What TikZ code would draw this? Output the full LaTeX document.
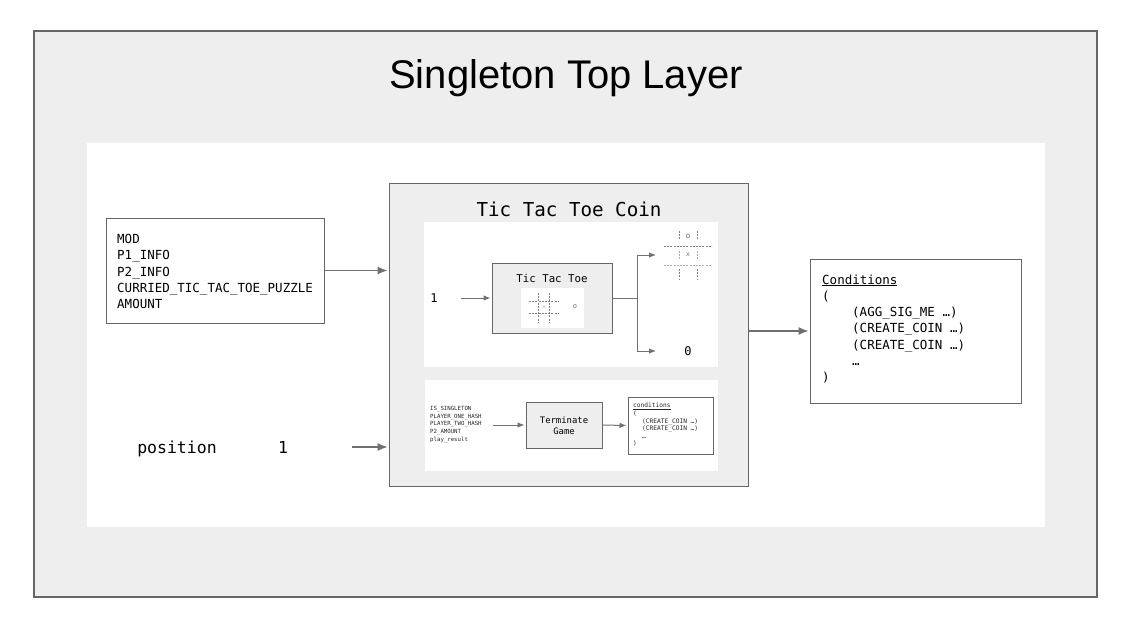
\documentclass[tikz,border=0pt]{standalone}
\usepackage{fontspec}
\setmainfont{Liberation Sans}
\newfontfamily\mono{DejaVu Sans Mono}
\usetikzlibrary{arrows.meta}
\definecolor{panelgray}{HTML}{EEEEEE}
\definecolor{edge}{HTML}{666666}
\definecolor{arr}{HTML}{707070}
\definecolor{gridc}{HTML}{808080}
\definecolor{gridl}{HTML}{B0B0B0}
\begin{document}
\begin{tikzpicture}[x=1pt,y=-1pt,
  box/.style={draw=edge,line width=1pt,inner sep=0pt},
  panel/.style={fill=white,inner sep=0pt},
  conn/.style={draw=arr,line width=1.2pt,shorten >=1pt,-{Latex[length=10pt,width=8pt]}},
  sconn/.style={draw=arr,line width=1pt,shorten >=1pt,-{Latex[length=7pt,width=5.5pt]}},
  plain/.style={draw=arr,line width=1pt},
  txt/.style={inner sep=0pt,align=left,anchor=west,text=black},
  lbl/.style={inner sep=0pt,text=black},
  gdash/.style={draw=gridc,line width=0.7pt,dash pattern=on 2pt off 1.2pt},
  gdashl/.style={draw=gridl,line width=0.7pt,dash pattern=on 2pt off 1.2pt},
 ]
\useasboundingbox (0,0) rectangle (1126,630);
\fill[white] (0,0) rectangle (1126,630);
% outer frame
\node[box,fill=panelgray,line width=1.2pt,minimum width=1063pt,minimum height=566pt] (outer) at (565.5,314) {};
\node[lbl,font=\fontsize{40}{44}\selectfont] (title) at (566,78) {Singleton Top Layer};
\node[panel,minimum width=958pt,minimum height=384pt] (white) at (566,335) {};
% left input box
\node[box,fill=white,minimum width=218pt,minimum height=105pt] (lbox) at (215,270.5) {};
\node[txt,font=\mono\fontsize{12.5}{16.3}\selectfont] (ltext) at (117,271.5)
  {MOD\\P1\_INFO\\P2\_INFO\\CURRIED\_TIC\_TAC\_TOE\_PUZZLE\\AMOUNT};
% coin box
\node[box,fill=panelgray,minimum width=359pt,minimum height=303pt] (coin) at (568.5,334.5) {};
\node[lbl,font=\mono\fontsize{19.2}{22}\selectfont] (cointitle) at (569,209) {Tic Tac Toe Coin};
\node[panel,minimum width=294pt,minimum height=145pt] (upper) at (571,294.5) {};
\node[panel,minimum width=293pt,minimum height=91pt] (lower) at (571.5,425.5) {};
% upper panel content
\node[lbl,font=\mono\fontsize{12}{14}\selectfont] (one) at (434,298) {1};
\coordinate (onestart) at (461,298);
\node[box,fill=panelgray,minimum width=120pt,minimum height=70pt] (ttt) at (552,298) {};
\node[lbl,font=\mono\fontsize{10.75}{12}\selectfont] (tttlabel) at (552,278) {Tic Tac Toe};
\node[panel,minimum width=63pt,minimum height=40pt] (tttw) at (552.5,308) {};
\draw[gdash] (538,293) -- (538,323);
\draw[gdash] (549,293) -- (549,323);
\draw[gdash] (529,301) -- (558,301);
\draw[gdash] (529,313) -- (558,313);
\node[lbl,text=gridl,font=\mono\fontsize{5}{6}\selectfont] (tx) at (544,307) {x};
\node[lbl,text=arr,font=\mono\fontsize{7}{8}\selectfont] (to) at (575,307) {o};
\draw[sconn] (onestart) -- (ttt.west);
\coordinate (fork) at (637,298);
\coordinate (upend) at (657,255);
\coordinate (downend) at (657,351);
\draw[plain] (ttt.east) -- (fork);
\draw[sconn] (fork) -- (fork |- upend) -- (upend);
\draw[sconn] (fork) -- (fork |- downend) -- (downend);
% result board
\draw[gdash] (679,231) -- (679,240);
\draw[gdash] (697,231) -- (697,240);
\draw[gdashl] (679,251) -- (679,260);
\draw[gdashl] (697,251) -- (697,260);
\draw[gdash] (679,269) -- (679,280);
\draw[gdash] (697,269) -- (697,280);
\draw[gdash] (664,246) -- (712,246);
\draw[gdashl] (664,265) -- (712,265);
\node[lbl,text=arr,font=\mono\fontsize{8}{9}\selectfont] (ro) at (688,236) {o};
\node[lbl,text=gridc,font=\mono\fontsize{7}{8}\selectfont] (rx) at (688,255) {x};
\node[lbl,font=\mono\fontsize{12}{14}\selectfont] (zero) at (688,351) {0};
% lower panel content
\node[txt,font=\mono\fontsize{5.7}{7.6}\selectfont,text=black!85] (list) at (430,424.5)
  {IS\_SINGLETON\\PLAYER\_ONE\_HASH\\PLAYER\_TWO\_HASH\\P2\_AMOUNT\\play\_result};
\coordinate (liststart) at (493,425);
\node[box,fill=panelgray,minimum width=76pt,minimum height=46pt] (term) at (564,425) {};
\node[lbl,align=center,font=\mono\fontsize{8.9}{11}\selectfont] (termtext) at (564,426) {Terminate\\Game};
\node[box,fill=white,minimum width=85pt,minimum height=57pt] (scond) at (670.5,425.5) {};
\node[txt,font=\mono\fontsize{6.2}{7.6}\selectfont,text=black!85] (scondtext) at (633,425)
  {\underline{conditions}\\(\\\hspace*{9pt}(CREATE\_COIN …)\\\hspace*{9pt}(CREATE\_COIN …)\\\hspace*{9pt}…\\)};
\draw[sconn] (liststart) -- (term.west);
\draw[sconn] (term.east) -- (scond.west);
% position
\node[lbl,anchor=base,font=\mono\fontsize{16.5}{18}\selectfont] (pos) at (177,453) {position};
\node[lbl,anchor=base,font=\mono\fontsize{16.5}{18}\selectfont] (posone) at (283,453) {1};
\coordinate (posstart) at (352,447);
\draw[conn] (posstart) -- (coin.west |- posstart);
% left arrow
\draw[conn] (lbox.east) -- (coin.west |- lbox.east);
% conditions
\node[box,fill=white,minimum width=211pt,minimum height=144pt] (cond) at (915.5,331) {};
\node[txt,font=\mono\fontsize{12.5}{16.3}\selectfont] (condtext) at (822,329)
  {\underline{Conditions}\\(\\\hspace*{30pt}(AGG\_SIG\_ME …)\\\hspace*{30pt}(CREATE\_COIN …)\\\hspace*{30pt}(CREATE\_COIN …)\\\hspace*{30pt}…\\)};
\draw[conn] (coin.east |- cond.west) -- (cond.west);
\end{tikzpicture}
\end{document}
